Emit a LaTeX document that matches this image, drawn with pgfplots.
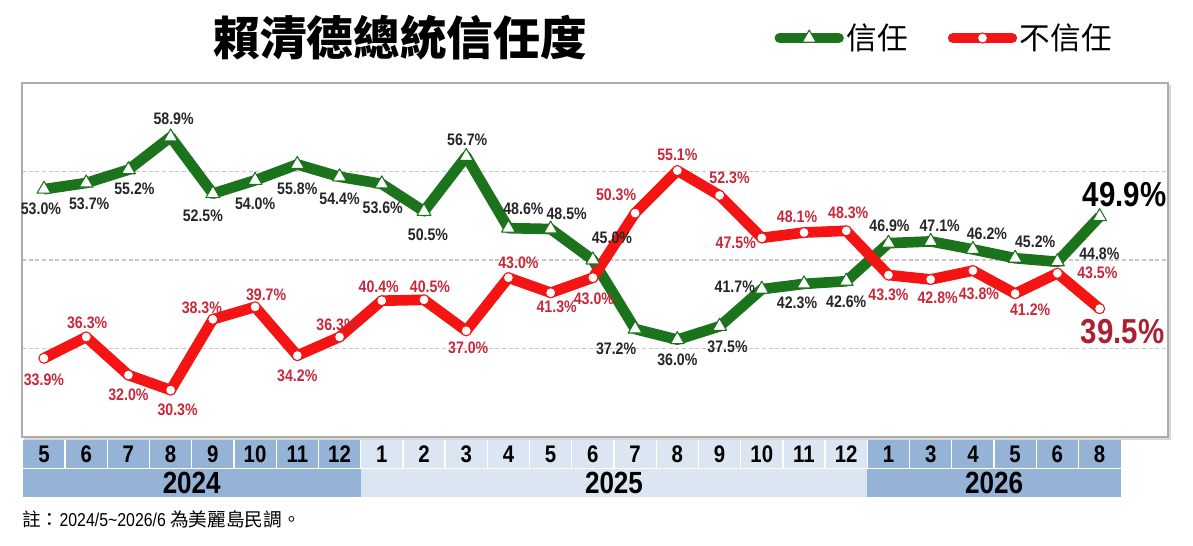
\documentclass[border=0pt]{standalone}
\usepackage{fontspec}
\setmainfont{Liberation Sans}
\newfontfamily\narrow[FakeStretch=0.85]{Liberation Sans}
\newfontfamily\cjk{Noto Sans CJK TC}
\usepackage{pgfplots}
\pgfplotsset{compat=1.18}
\usepackage{pgfplotstable}

\definecolor{trustgreen}{HTML}{1B731B}
\definecolor{distrustred}{HTML}{F51414}
\definecolor{redlabel}{HTML}{C8283A}
\definecolor{graylabel}{HTML}{262626}
\definecolor{cellblue}{HTML}{95B3D7}
\definecolor{celllight}{HTML}{DCE6F2}

% x = month index (2024/5 = 0 ... 2026/8 = 25), dx/dy = label offset in px
\pgfplotstableread{
x  y    dx  dy
0  53.0 -3  -20
1  53.7  3  -21
2  55.2  6  -19
3  58.9  3   18
4  52.5 -10 -22
5  54.0  0  -23
6  55.8  0  -24
7  54.4  0  -22
8  53.6  1  -24
9  50.5  4  -23
10 56.7  1   17
11 48.6 15   19
12 48.5 16   15
13 45.0 19   22
14 37.2 -19 -20
15 36.0  0  -20
16 37.5  8  -20
17 41.7 -27   2
18 42.3 -7  -19
19 42.6  0  -21
20 46.9  1   17
21 47.1  9   16
22 46.2 14   16
23 45.2 20   16
24 44.8 42    8
25 49.9 25   22
}\trust

\pgfplotstableread{
x  y    dx  dy
0  33.9  0  -22
1  36.3  1   14
2  32.0  0  -20
3  30.3  7  -20
4  38.3 -11  12
5  39.7 11   12
6  34.2  0  -20
7  36.3 -3   12
8  40.4 -3   14
9  40.5  6   13
10 37.0  2  -17
11 43.0 10   15
12 41.3  6  -14
13 43.0  1  -21
14 50.3 -19  18
15 55.1  0   16
16 52.3 10   18
17 47.5 -26  -5
18 48.1 -7   16
19 48.3  2   18
20 43.3  0  -20
21 42.8  7  -18
22 43.8  6  -23
23 41.2 15  -16
24 43.5 40    0
25 39.5 23  -23
}\distrust

\pgfplotsset{
  lab/.style={draw=none, mark=none, forget plot, point meta=y,
    visualization depends on={\thisrow{dx}\as\dx},
    visualization depends on={\thisrow{dy}\as\dy},
    nodes near coords={\pgfmathprintnumber[fixed,fixed zerofill,precision=1,assume math mode=true]{\pgfplotspointmeta}\%},
    nodes near coords style={anchor=center, inner sep=0pt,
      xshift=\dx*0.75pt, yshift=\dy*0.75pt, text=#1},
  },
}

\begin{document}
\begin{tikzpicture}
\begin{axis}[
  set layers,
  at={(16.5pt,81.75pt)}, anchor=south west,
  scale only axis, width=859.5pt, height=265.5pt,
  xmin=-0.52, xmax=26.62, ymin=25, ymax=65,
  clip=false,
  axis line style={draw=gray!65, line width=1.5pt},
  ytick={35,45,55}, yticklabels={},
  ymajorgrids, grid style={gray!45, dash pattern=on 3pt off 2pt, line width=0.8pt},
  xtick={0,...,25},
  xticklabels={5,6,7,8,9,10,11,12,1,2,3,4,5,6,7,8,9,10,11,12,1,3,4,5,6,8},
  major tick length=0pt,
  xticklabel style={anchor=center, yshift=-12.9pt,
    font=\narrow\bfseries\fontsize{18pt}{18pt}\selectfont},
  nodes near coords style={font=\narrow\bfseries\fontsize{12.5pt}{12.5pt}\selectfont},
  legend columns=2,
  legend style={at={(0.805,1.127)}, anchor=center, draw=none, fill=none,
    font=\cjk\fontsize{23pt}{23pt}\selectfont,
    /tikz/every even column/.append style={column sep=28pt}},
  legend image code/.code={\draw[#1, line cap=round, mark repeat=2, mark phase=2]
    plot coordinates {(0pt,0pt) (22pt,0pt) (44pt,0pt)};},
]
% month and year table below the chart
\pgfplotsextra{
\begin{pgfonlayer}{axis background}
\draw[gray!30, line width=2pt] (axis cs:-0.48,24.85) -- (axis cs:26.66,24.85) -- (axis cs:26.66,64.8);
\fill[cellblue]  (axis cs:-0.5,24.66) rectangle (axis cs:7.5,21.5);
\fill[celllight] (axis cs:7.5,24.66)  rectangle (axis cs:19.5,21.5);
\fill[cellblue]  (axis cs:19.5,24.66) rectangle (axis cs:25.5,21.5);
\fill[cellblue]  (axis cs:-0.5,21.35) rectangle (axis cs:7.5,18.2);
\fill[celllight] (axis cs:7.5,21.35)  rectangle (axis cs:19.5,18.2);
\fill[cellblue]  (axis cs:19.5,21.35) rectangle (axis cs:25.5,18.2);
\foreach \k in {0,...,24} {
  \draw[white, line width=1pt] (axis cs:\k.5,24.66) -- (axis cs:\k.5,21.5);
}
\end{pgfonlayer}
}
\node[font=\narrow\bfseries\fontsize{23pt}{23pt}\selectfont] at (axis cs:3.5,19.8) {2024};
\node[font=\narrow\bfseries\fontsize{23pt}{23pt}\selectfont] at (axis cs:13.5,19.8) {2025};
\node[font=\narrow\bfseries\fontsize{23pt}{23pt}\selectfont] at (axis cs:22.5,19.8) {2026};

\addplot[trustgreen, line width=8pt, line join=round, mark=triangle*,
  mark options={fill=white, draw=trustgreen, line width=0.8pt, mark size=6pt}]
  table[x=x, y=y] {\trust};
\addlegendentry{信任}
\addplot[distrustred, line width=8pt, line join=round, mark=*,
  mark options={fill=white, draw=distrustred, line width=0.8pt, mark size=3.8pt}]
  table[x=x, y=y] {\distrust};
\addlegendentry{不信任}

% value labels
\addplot[lab=graylabel, skip coords between index={25}{26}] table[x=x, y=y] {\trust};
\addplot[lab=redlabel, skip coords between index={25}{26}] table[x=x, y=y] {\distrust};
\addplot[lab=black, skip coords between index={0}{25},
  nodes near coords style={font=\narrow\bfseries\fontsize{26pt}{26pt}\selectfont}]
  table[x=x, y=y] {\trust};
\addplot[lab=redlabel!85!black, skip coords between index={0}{25},
  nodes near coords style={font=\narrow\bfseries\fontsize{26pt}{26pt}\selectfont}]
  table[x=x, y=y] {\distrust};

\node[font=\cjk\bfseries\fontsize{35pt}{35pt}\selectfont] at (axis description cs:0.33,1.127) {賴清德總統信任度};
\node[anchor=west, inner sep=0pt, font=\fontsize{14pt}{14pt}\selectfont]
  at (axis description cs:0,-0.234) {\cjk 註：\narrow 2024/5\textasciitilde 2026/6 \cjk 為美麗島民調。};
\end{axis}
\path[use as bounding box] (0,0) rectangle (894.75pt,409.5pt);
\end{tikzpicture}
\end{document}
